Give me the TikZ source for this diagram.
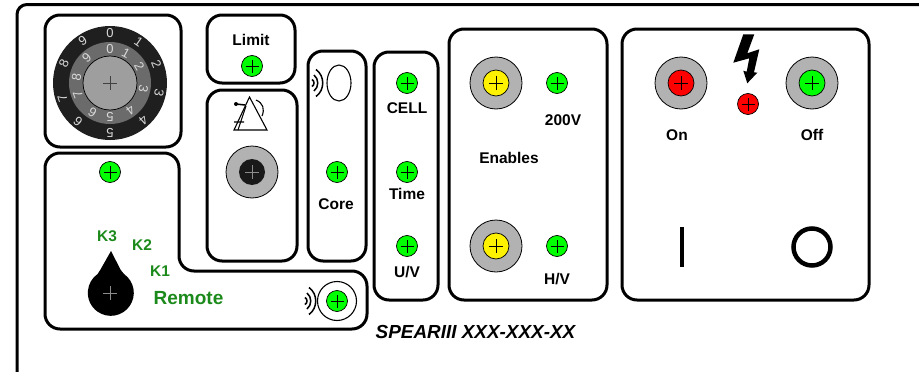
\documentclass[tikz,border=0pt]{standalone}
\usepackage{fontspec}
\setmainfont{Liberation Sans}
\usepackage{tikz}
\usetikzlibrary{calc}
\definecolor{ledgreen}{HTML}{00FF00}
\definecolor{ringgray}{HTML}{B2B2B2}
\definecolor{remgreen}{HTML}{1B8A1B}
\tikzset{
  panel/.style ={draw, line width=3pt, rounded corners=15pt},
  lbl/.style   ={font=\fontsize{15.5}{15.5}\selectfont\bfseries, inner sep=0pt},
  rem/.style   ={lbl, text=remgreen},
  digit/.style ={text=black!15, font=\fontsize{13}{13}\selectfont, inner sep=0pt},
  led/.style   ={circle, draw, line width=0.7pt, fill=#1, minimum size=21pt, inner sep=0pt,
                 path picture={\draw[line width=0.8pt] ($(path picture bounding box.center)+(-6.5pt,0)$) -- ++(13pt,0)
                 ($(path picture bounding box.center)+(0,-6.5pt)$) -- ++(0,13pt);}},
  ring/.style  ={circle, draw, line width=0.8pt, fill=ringgray, minimum size=52pt, inner sep=0pt},
  hub/.style   ={circle, draw, line width=0.7pt, fill=#1, minimum size=26pt, inner sep=0pt,
                 path picture={\draw[line width=0.8pt] ($(path picture bounding box.center)+(-7pt,0)$) -- ++(14pt,0)
                 ($(path picture bounding box.center)+(0,-7pt)$) -- ++(0,14pt);}},
  waves/.pic={
    \draw[line width=1.5pt] (1,-3.5) .. controls (3.7,-1.8) and (3.7,1.8) .. (1,3.5);
    \draw[line width=1.5pt] (3,-8) .. controls (8,-4) and (8,4) .. (3,8);
    \draw[line width=1.5pt] (5,-13.5) .. controls (14,-7) and (14,7) .. (5,13.5);
  },
}
\begin{document}
\begin{tikzpicture}[x=1pt,y=-1pt]
\useasboundingbox (0,0) rectangle (919,372);
% outer frame
\draw[line width=3pt] (17,372) -- (17,14.5) arc[start angle=180,end angle=270,radius=10] -- (919,4.5);
% panels
\draw[panel] (45,15) rectangle (181,147);
\draw[panel] (207,15) rectangle (295,83);
\draw[panel] (207,90) rectangle (297,261);
\draw[panel] (308,51) rectangle (366,261);
\draw[panel] (374,52) rectangle (438,300);
\draw[panel] (449,29) rectangle (607,300);
\draw[panel] (622,29) rectangle (869,300);
\draw[panel] (45,153) -- (179,153) -- (179,271) -- (367,271) -- (367,329) -- (45,329) -- cycle;
% dial
\node[circle, fill=black!88, minimum size=114pt, inner sep=0pt] (dialout) at (110,83) {};
\node[circle, fill=black!58, minimum size=82pt, inner sep=0pt] (dialmid) at (110,83) {};
\node[circle, draw, line width=0.7pt, fill=black!38, minimum size=54pt, inner sep=0pt] (dialin) at (110,83) {};
\draw[line width=0.7pt, black!75] (103,83) -- (117,83) (110,76) -- (110,90);
\foreach \a/\d in {0/0,35/1,68/2,101/3,138/4,180/5,220/6,252/7,293/8,327/9}
  \node[digit, rotate=-\a] at ($(110,83)+({50*sin(\a)},{-50*cos(\a)})$) {\d};
\foreach \a/\d in {0/0,28/1,60/2,100/3,143/4,180/5,211/6,250/7,279/8,317/9}
  \node[digit, rotate=-\a] at ($(110,83)+({34*sin(\a)},{-34*cos(\a)})$) {\d};
% limit
\node[lbl] (limit) at (251,40) {Limit};
\node[led=ledgreen] (ledlimit) at (252,66) {};
% metronome
\draw[line width=1.1pt] (249.5,97) -- (234,130) -- (267,130) -- cycle;
\draw[line width=1.1pt] (234,122) -- (244,122) (238,130) -- (246,106);
\draw[line width=1.5pt] (236,104) -- (245,105);
\draw[line width=1.1pt] (256,100) .. controls (263,103) and (265,109) .. (262,116);
\node[circle, fill=black, minimum size=4pt, inner sep=0pt] (metrobob) at (236,104) {};
\node[ring] (ringmetro) at (252,172) {};
\node[hub=black!90, draw=none] (hubmetro) at (252,172) {};
\draw[line width=0.8pt, black!45] (245,172) -- (259,172) (252,165) -- (252,179);
% core
\pic at (311,83) {waves};
\draw[line width=1.1pt] (339,83) ellipse[x radius=12, y radius=18];
\node[led=ledgreen] (ledcore) at (337,172) {};
\node[lbl] (core) at (336,204) {Core};
% cell
\node[led=ledgreen] (ledcell) at (407,83) {};
\node[lbl] (cell) at (407,108) {CELL};
\node[led=ledgreen] (ledtime) at (407,172) {};
\node[lbl] (time) at (407,194) {Time};
\node[led=ledgreen] (leduv) at (407,246) {};
\node[lbl] (uv) at (407,272) {U/V};
% enables
\node[ring] (ringtop) at (496,83) {};
\node[hub=yellow] (hubtop) at (496,83) {};
\node[led=ledgreen] (ledhv) at (557,83) {};
\node[lbl] (v200) at (563,120) {200V};
\node[lbl] (enables) at (509,158) {Enables};
\node[ring] (ringbot) at (496,246) {};
\node[hub=yellow] (hubbot) at (496,246) {};
\node[led=ledgreen] (ledhv2) at (557,246) {};
\node[lbl] (hv) at (557,279) {H/V};
% power
\node[ring] (ringon) at (681,83) {};
\node[hub=red] (hubon) at (681,83) {};
\node[ring] (ringoff) at (812,83) {};
\node[hub=ledgreen] (huboff) at (812,83) {};
\fill (743.3,34.3) -- (754.3,34.3) -- (747.3,53.3) -- (759.3,49.3) -- (754,72.3) -- (757.3,72.7)
  -- (747.3,83.3) -- (743.3,70.7) -- (746.7,71.7) -- (749.3,58.3) -- (733.3,62.7) -- cycle;
\node[led=red] (ledbolt) at (748,104) {};
\node[lbl] (on) at (677,135) {On};
\node[lbl] (off) at (812,135) {Off};
\draw[line width=4.5pt] (682,227) -- (682,267);
\draw[line width=4.5pt] (812,247) circle[radius=18.5];
% remote
\node[led=ledgreen] (ledrem) at (110,172) {};
\fill (111,251) -- (120.5,269.5) .. controls (121.5,271) .. (124,274) arc[start angle=-55,end angle=235,radius=23]
  .. controls (99.5,271) .. (100.5,269.5) -- cycle;
\draw[line width=0.8pt, black!45] (103,293) -- (117,293) (110,286) -- (110,300);
\node[rem] (k3) at (107,236) {K3};
\node[rem] (k2) at (142,245) {K2};
\node[rem] (k1) at (160,271) {K1};
\node[rem, font=\fontsize{19}{19}\selectfont\bfseries] (remote) at (188.5,298) {Remote};
\pic at (304,301) {waves};
\node[circle, draw, line width=1.1pt, minimum size=39pt, inner sep=0pt] (ringrem) at (337,301) {};
\node[led=ledgreen] (ledremote) at (337,301) {};
% caption
\node[font=\fontsize{18.9}{18.9}\selectfont\bfseries\itshape, inner sep=0pt] (spear) at (475.5,332) {SPEARIII XXX-XXX-XX};
\end{tikzpicture}
\end{document}
